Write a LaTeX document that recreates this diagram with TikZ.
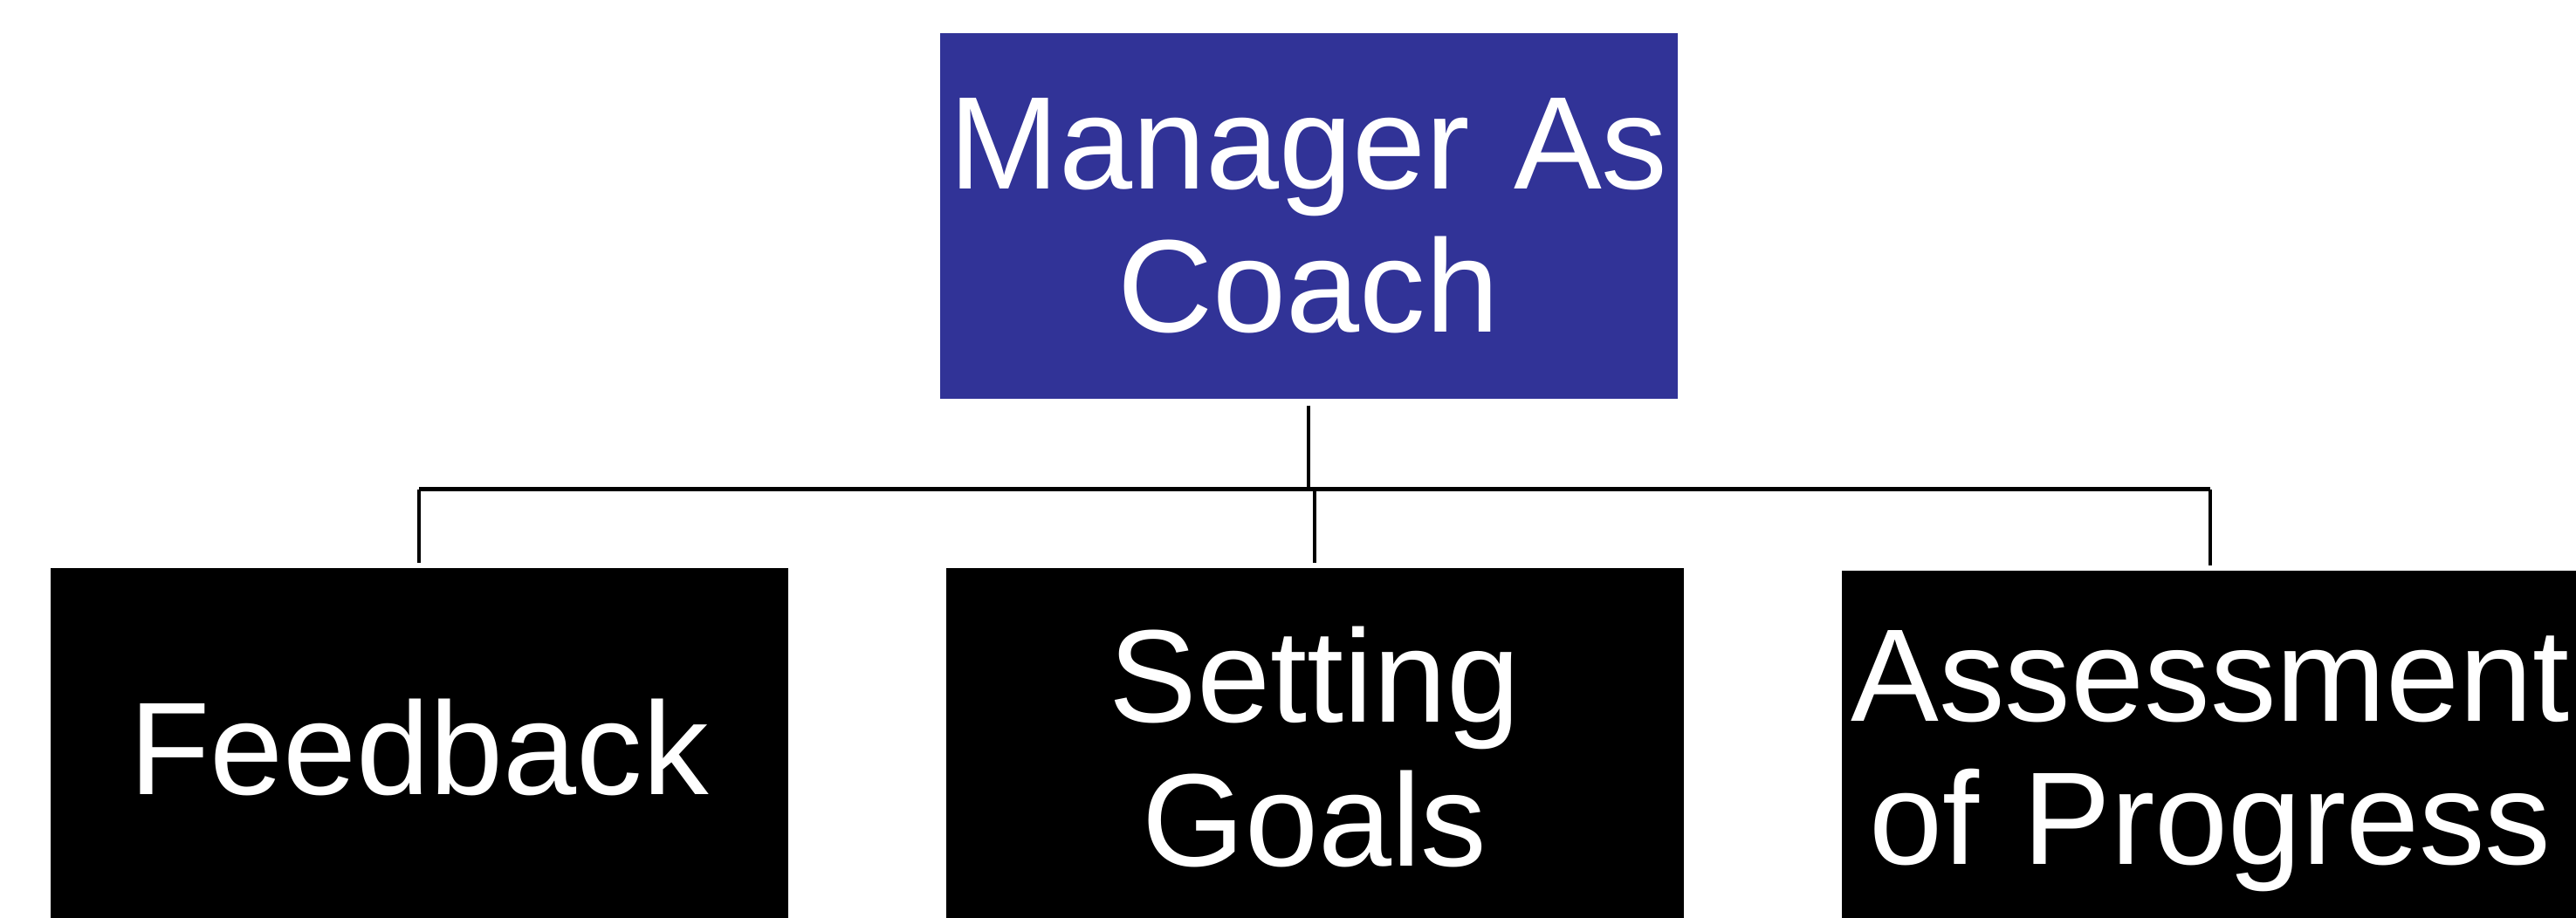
\documentclass[tikz,border=0pt]{standalone}
\usepackage{fontspec}
\setmainfont{Liberation Sans}
\usetikzlibrary{positioning, calc}

\definecolor{coachblue}{RGB}{49,51,151}

\begin{document}
\begin{tikzpicture}[
        box/.style={rectangle, fill=black, text=white, inner sep=0pt,
            minimum width=8.45cm, minimum height=4.1cm, text width=8.45cm,
            align=center, font=\fontsize{43}{46.7}\selectfont},
        conn/.style={draw=black, line width=1pt},
        bar/.style={draw=black, line width=1.4pt},
    ]

        % Fix the page size
        \useasboundingbox (0,0) rectangle (29.51,-10.52);

        % Draw the top node
        \node[box, fill=coachblue, minimum height=4.19cm] (mgr) at (14.99,-2.475) {Manager As\\Coach};

        % Draw the bottom row of nodes
        \node[box] (fb) at (4.80,-8.56) {Feedback};
        \node[box] (sg) at (15.06,-8.56) {Setting\\Goals};
        \node[box, minimum height=4.36cm] (ap) at (25.32,-8.72) {Assessment\\of Progress};

        % Connect the top node with every node in the bottom row
        \draw[conn, shorten <=0.07cm] (mgr.south) -- ++(0,-1.03) coordinate (hub);
        \foreach \dest in {fb, sg, ap}
            \draw[conn, shorten >=0.05cm] (hub -| \dest.north) -- (\dest.north);
        \draw[bar] (hub -| fb.north) -- (hub -| ap.north);
    \end{tikzpicture}
\end{document}
